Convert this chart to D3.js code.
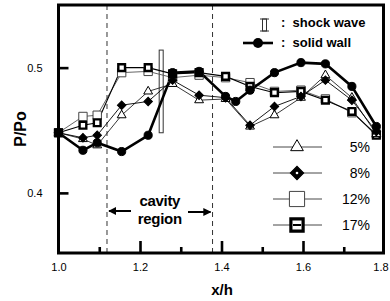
<!DOCTYPE html>
<html>
<head>
<meta charset="utf-8">
<script src="https://cdn.jsdelivr.net/npm/d3@7"></script>
<style>
  body { margin: 0; background: #fff; }
  svg { display: block; }
  text { font-family: 'Liberation Sans', Arial, sans-serif; fill: #000; }
</style>
</head>
<body>
<div id="chart"></div>
<script>
// measurement stations (x/h)
var xWall = [1.0, 1.06, 1.095, 1.155, 1.22, 1.28, 1.345, 1.41, 1.435, 1.47, 1.53, 1.595, 1.655, 1.72, 1.78]
var xPorous = [1.0, 1.06, 1.095, 1.155, 1.22, 1.28, 1.345, 1.41, 1.47, 1.53, 1.595, 1.655, 1.72, 1.78]

// P/Po values
var pWall = [0.448, 0.434, 0.440, 0.433, 0.446, 0.496, 0.497, 0.477, 0.473, 0.482, 0.496, 0.504, 0.503, 0.485, 0.453]
var p5 = [0.448, 0.443, 0.438, 0.462, 0.481, 0.487, 0.474, 0.475, 0.453, 0.462, 0.476, 0.494, 0.476, 0.447]
var p8 = [0.448, 0.444, 0.446, 0.470, 0.473, 0.490, 0.478, 0.476, 0.454, 0.469, 0.477, 0.490, 0.474, 0.449]
var p12 = [0.448, 0.461, 0.462, 0.496, 0.497, 0.492, 0.494, 0.492, 0.488, 0.481, 0.482, 0.475, 0.464, 0.447]
var p17 = [0.448, 0.454, 0.456, 0.500, 0.500, 0.495, 0.496, 0.493, 0.485, 0.480, 0.481, 0.474, 0.465, 0.446]

var porousLabels = ['5%', '8%', '12%', '17%']
var xTicks = [1.0, 1.2, 1.4, 1.6, 1.8]
var xMajorTicks = [1.2, 1.4, 1.6]
var xMinorTicks = [1.1, 1.3, 1.5, 1.7]
var yTicks = [0.4, 0.5]

var cavityBounds = [1.119, 1.378]
var shockX = 1.252
var shockP = [0.448, 0.514]

const width = 390
const height = 301

var svg = d3.select('#chart')
  .append('svg')
  .attr('width', width)
  .attr('height', height)

var x = d3.scaleLinear().domain([1.0, 1.8]).range([58.5, 384.5])
var y = d3.scaleLinear().domain([0.352, 0.55]).range([253, 5])
var right = 383.5

// arrow head
svg.append('defs').append('marker')
  .attr('id', 'head')
  .attr('viewBox', '0 0 10 10')
  .attr('refX', 9).attr('refY', 5)
  .attr('markerWidth', 4).attr('markerHeight', 4)
  .attr('orient', 'auto-start-reverse')
  .append('path').attr('d', 'M0,0L10,5L0,10Z').attr('fill', '#000')

// cavity boundaries
svg.selectAll('.cav')
  .data(cavityBounds)
  .enter().append('line')
  .attr('x1', d => x(d)).attr('x2', d => x(d))
  .attr('y1', y(0.55)).attr('y2', y(0.352))
  .attr('stroke', '#333').attr('stroke-width', 1)
  .attr('stroke-dasharray', '5,4')

// shock wave bar
svg.append('rect')
  .attr('x', x(shockX) - 2).attr('width', 4)
  .attr('y', y(shockP[1])).attr('height', y(shockP[0]) - y(shockP[1]))
  .attr('fill', 'none').attr('stroke', '#333').attr('stroke-width', 1)

// lines
function lineFor(xs) {
  return d3.line().x((d, i) => x(xs[i])).y(d => y(d))
}
var series = [
  { vals: p12, xs: xPorous, stroke: '#555', w: 0.9 },
  { vals: p17, xs: xPorous, stroke: '#000', w: 1.1 },
  { vals: p5, xs: xPorous, stroke: '#222', w: 0.9 },
  { vals: p8, xs: xPorous, stroke: '#000', w: 0.9 },
  { vals: pWall, xs: xWall, stroke: '#000', w: 2.6 }
]
series.forEach(s => {
  svg.append('path')
    .attr('d', lineFor(s.xs)(s.vals))
    .attr('fill', 'none').attr('stroke', s.stroke).attr('stroke-width', s.w)
})

// markers
function marks(vals, xs, type, size, fill, stroke, sw, rot) {
  svg.append('g').selectAll('path')
    .data(vals)
    .enter().append('path')
    .attr('d', d3.symbol().type(type).size(size))
    .attr('transform', (d, i) => 'translate(' + x(xs[i]) + ',' + y(d) + ')' + (rot ? ' rotate(45)' : ''))
    .attr('fill', fill).attr('stroke', stroke).attr('stroke-width', sw)
}
marks(p12, xPorous, d3.symbolSquare, 70, '#fff', '#444', 1)
marks(p17, xPorous, d3.symbolSquare, 45, '#fff', '#000', 2.4)
marks(p5, xPorous, d3.symbolTriangle, 34, '#fff', '#000', 1)
marks(p8, xPorous, d3.symbolSquare, 36, '#000', '#000', 1, true)
marks(pWall, xWall, d3.symbolCircle, 52, '#000', '#000', 1)

// frame
svg.append('path')
  .attr('d', 'M' + x(1.0) + ',' + y(0.55) + 'H' + right + 'V' + y(0.352) + 'H' + x(1.0) + 'Z')
  .attr('fill', 'none').attr('stroke', '#000').attr('stroke-width', 3)

// axes
var xLabels = svg.append('g')
  .attr('transform', 'translate(0,' + y(0.352) + ')')
  .call(d3.axisBottom(x).tickValues(xTicks).tickSize(0).tickPadding(10).tickFormat(d3.format('.1f')))
// last label would run off the right edge
xLabels.selectAll('.tick text').filter(d => d == 1.8).attr('dx', -4)
var xMajor = svg.append('g')
  .attr('transform', 'translate(0,' + y(0.352) + ')')
  .call(d3.axisBottom(x).tickValues(xMajorTicks).tickSize(-12).tickFormat(''))
var xMinor = svg.append('g')
  .attr('transform', 'translate(0,' + y(0.352) + ')')
  .call(d3.axisBottom(x).tickValues(xMinorTicks).tickSize(-6).tickFormat(''))
var yAxis = svg.append('g')
  .attr('transform', 'translate(' + x(1.0) + ',0)')
  .call(d3.axisLeft(y).tickValues(yTicks).tickSize(-10).tickPadding(16).tickFormat(d3.format('.1f')))

svg.selectAll('.domain').remove()
svg.selectAll('.tick line').attr('stroke', '#000').attr('stroke-width', 2.6)
svg.selectAll('.tick text').attr('font-size', 11).attr('font-family', "'Liberation Sans', Arial, sans-serif").attr('fill', '#000')

// axis titles
svg.append('text')
  .attr('x', 222).attr('y', 295)
  .attr('text-anchor', 'middle')
  .attr('font-size', 15).attr('font-weight', 'bold')
  .text('x/h')
svg.append('text')
  .attr('transform', 'translate(26,129) rotate(-90)')
  .attr('text-anchor', 'middle')
  .attr('font-size', 16).attr('font-weight', 'bold')
  .text('P/Po')

// cavity region annotation
var cavMid = (x(cavityBounds[0]) + x(cavityBounds[1])) / 2
svg.append('text')
  .attr('x', cavMid).attr('y', 206)
  .attr('text-anchor', 'middle').attr('font-size', 15).attr('font-weight', 'bold')
  .attr('letter-spacing', -0.3)
  .text('cavity')
svg.append('text')
  .attr('x', cavMid).attr('y', 224)
  .attr('text-anchor', 'middle').attr('font-size', 15).attr('font-weight', 'bold')
  .attr('letter-spacing', -0.3)
  .text('region')
svg.append('line')
  .attr('x1', 131).attr('x2', x(cavityBounds[0]) + 2)
  .attr('y1', 211).attr('y2', 211)
  .attr('stroke', '#000').attr('stroke-width', 2)
  .attr('marker-end', 'url(#head)')
svg.append('line')
  .attr('x1', 188).attr('x2', x(cavityBounds[1]) - 2)
  .attr('y1', 212).attr('y2', 212)
  .attr('stroke', '#000').attr('stroke-width', 2)
  .attr('marker-end', 'url(#head)')

// top legend
svg.append('rect')
  .attr('x', 262.5).attr('y', 19).attr('width', 4).attr('height', 12)
  .attr('fill', 'none').attr('stroke', '#333').attr('stroke-width', 1)
svg.append('path')
  .attr('d', 'M260,19H269M260,31H269')
  .attr('stroke', '#333').attr('stroke-width', 1)
svg.append('line')
  .attr('x1', 243).attr('x2', 273).attr('y1', 43).attr('y2', 43)
  .attr('stroke', '#000').attr('stroke-width', 2.6)
svg.append('circle').attr('cx', 258).attr('cy', 43).attr('r', 5).attr('fill', '#000')
var topLegend = [': shock wave', ': solid wall']
svg.selectAll('.tl')
  .data(topLegend)
  .enter().append('text')
  .attr('x', 281).attr('y', (d, i) => 27 + i * 20)
  .attr('font-size', 13).attr('font-weight', 'bold')
  .attr('xml:space', 'preserve')
  .text(d => d.replace(': ', ':  '))

// percent legend
var legendY = d => 147 + d * 26
var legendSym = [
  { type: d3.symbolTriangle, size: 70, fill: '#fff', stroke: '#000', sw: 1, rot: false },
  { type: d3.symbolSquare, size: 90, fill: '#000', stroke: '#000', sw: 1, rot: true },
  { type: d3.symbolSquare, size: 230, fill: '#fff', stroke: '#444', sw: 1, rot: false },
  { type: d3.symbolSquare, size: 150, fill: '#fff', stroke: '#000', sw: 3.2, rot: false }
]
porousLabels.forEach((lab, i) => {
  var g = svg.append('g').attr('transform', 'translate(0,' + legendY(i) + ')')
  g.append('line').attr('x1', 273).attr('x2', 322).attr('y1', 0).attr('y2', 0)
    .attr('stroke', '#333').attr('stroke-width', 0.9)
  var s = legendSym[i]
  g.append('path')
    .attr('d', d3.symbol().type(s.type).size(s.size))
    .attr('transform', 'translate(297,0)' + (s.rot ? ' rotate(45)' : ''))
    .attr('fill', s.fill).attr('stroke', s.stroke).attr('stroke-width', s.sw)
  if (i == 1) g.append('circle').attr('cx', 297).attr('cy', 0).attr('r', 1.3).attr('fill', '#fff')
  if (i == 3) g.append('rect').attr('x', 293).attr('y', -1).attr('width', 8).attr('height', 2).attr('fill', '#000')
  g.append('text')
    .attr('x', 370).attr('y', 5)
    .attr('text-anchor', 'end').attr('font-size', 14)
    .text(lab)
})
</script>
</body>
</html>
